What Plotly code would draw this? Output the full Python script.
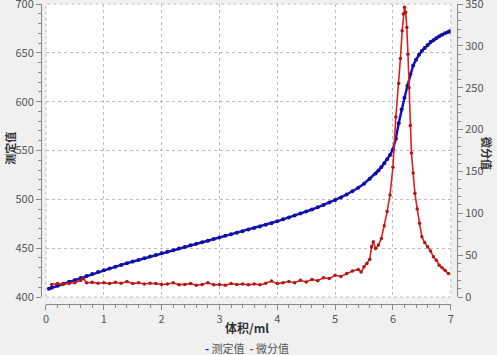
import plotly.graph_objects as go

# Measured value (left axis)
vol_measured = [0.05, 0.1, 0.2, 0.3, 0.4, 0.5, 0.6, 0.7, 0.8, 0.9,
                1.0, 1.1, 1.2, 1.3, 1.4, 1.5, 1.6, 1.7, 1.8, 1.9,
                2.0, 2.1, 2.2, 2.3, 2.4, 2.5, 2.6, 2.7, 2.8, 2.9,
                3.0, 3.1, 3.2, 3.3, 3.4, 3.5, 3.6, 3.7, 3.8, 3.9,
                4.0, 4.1, 4.2, 4.3, 4.4, 4.5, 4.6, 4.7, 4.8, 4.9,
                5.0, 5.1, 5.2, 5.3, 5.4, 5.5, 5.6, 5.7, 5.75, 5.8,
                5.85, 5.9, 5.95, 6.0, 6.05, 6.1, 6.15, 6.2, 6.25, 6.3,
                6.35, 6.4, 6.45, 6.5, 6.55, 6.6, 6.65, 6.7, 6.75, 6.8,
                6.85, 6.9, 6.95, 6.98]
measured = [408.5, 409.5, 411.5, 413.5, 415.5, 417.5, 419.5, 421.5, 423.5, 425.5,
            427.5, 429.3, 431.1, 432.9, 434.6, 436.3, 438.0, 439.7, 441.4, 443.1,
            444.8, 446.4, 448.0, 449.7, 451.3, 452.9, 454.5, 456.1, 457.7, 459.3,
            461.0, 462.6, 464.2, 465.8, 467.4, 469.0, 470.6, 472.2, 473.9, 475.5,
            477.5, 479.5, 481.4, 483.4, 485.4, 487.5, 489.6, 491.8, 494.2, 496.7,
            499.3, 502.0, 505.0, 508.2, 511.8, 516.0, 521.0, 526.5, 529.5, 533.0,
            537.0, 541.0, 545.5, 551.0, 562.0, 578.0, 592.0, 604.0, 616.0, 628.0,
            637.0, 643.0, 648.0, 652.0, 655.0, 658.0, 661.0, 663.0, 665.0, 667.0,
            668.5, 670.0, 671.0, 672.0]

# Derivative value (right axis)
vol_deriv = [0.1, 0.2, 0.3, 0.4, 0.5, 0.6, 0.65, 0.7, 0.8, 0.9,
             1.0, 1.1, 1.2, 1.3, 1.4, 1.5, 1.6, 1.7, 1.8, 1.9,
             2.0, 2.1, 2.2, 2.3, 2.4, 2.5, 2.6, 2.7, 2.8, 2.9,
             3.0, 3.1, 3.2, 3.3, 3.4, 3.5, 3.6, 3.7, 3.8, 3.9,
             4.0, 4.1, 4.2, 4.3, 4.4, 4.5, 4.6, 4.7, 4.8, 4.9,
             5.0, 5.1, 5.2, 5.3, 5.4, 5.45, 5.5, 5.55, 5.6, 5.63,
             5.66, 5.7, 5.75, 5.8, 5.85, 5.9, 5.95, 6.0, 6.05, 6.1,
             6.13, 6.16, 6.18, 6.2, 6.22, 6.24, 6.26, 6.28, 6.3, 6.32,
             6.35, 6.38, 6.42, 6.46, 6.5, 6.55, 6.6, 6.65, 6.7, 6.75,
             6.8, 6.85, 6.9, 6.96]
deriv = [15, 16, 15.5, 16, 17, 20, 22, 17, 17.5, 16.5,
         17, 16, 17.5, 16.5, 18.5, 16, 17, 15.5, 16.5, 16,
         15, 15.5, 17, 14.5, 15, 16, 14, 15, 17, 14.5,
         15, 14, 16, 15, 15.5, 14.5, 15.5, 14.5, 16.5, 19,
         16, 17, 18.5, 17, 20, 18, 21, 19.5, 23, 22,
         26, 24.5, 28, 31, 33, 30, 36, 40, 45, 60,
         66, 58, 62, 70, 85, 102, 122, 155, 215, 255,
         285, 318, 338, 346, 340, 322, 290, 250, 205, 172,
         148, 124, 105, 88, 72, 65, 60, 55, 48, 44,
         38, 35, 32, 28]

x_ticks = [0, 1, 2, 3, 4, 5, 6, 7]
left_ticks = [400, 450, 500, 550, 600, 650, 700]
right_ticks = [0, 50, 100, 150, 200, 250, 300, 350]

BLUE = "#1414c8"
RED = "#dc2020"
FONT = "Noto Sans CJK SC"
TICKFONT = dict(family=FONT, size=11, color="#555555")

fig = go.Figure()
fig.add_trace(go.Scatter(
    x=vol_measured, y=measured, name="测定值", mode="lines+markers",
    line=dict(color=BLUE, width=2.5),
    marker=dict(color="#10109a", size=4), yaxis="y", showlegend=False))
fig.add_trace(go.Scatter(
    x=vol_deriv, y=deriv, name="微分值", mode="lines+markers",
    line=dict(color=RED, width=1.6),
    marker=dict(color="#b01818", size=3.5), yaxis="y2", showlegend=False))

fig.update_layout(
    width=497, height=355,
    margin=dict(l=41, r=40, t=4, b=51, autoexpand=False),
    paper_bgcolor="#f0f0f0", plot_bgcolor="#ffffff",
    font=dict(family=FONT, size=11, color="#555555"),
    xaxis=dict(domain=[0.012, 0.985], range=[0, 7], anchor="free", position=0,
               tickvals=x_ticks, ticks="outside", ticklen=5, tickcolor="#888888",
               showline=True, linecolor="#888888", linewidth=1,
               showgrid=True, gridcolor="#bdbdbd", griddash="dot", gridwidth=1,
               zeroline=False, tickfont=TICKFONT, automargin=False,
               minor=dict(ticks="outside", ticklen=3, dtick=0.2, tickcolor="#888888", showgrid=False)),
    yaxis=dict(domain=[0.0233, 1], range=[400, 700], anchor="free", position=0,
               tickvals=left_ticks, ticks="outside", ticklen=5, tickcolor="#888888",
               showline=True, linecolor="#888888", linewidth=1,
               showgrid=True, gridcolor="#bdbdbd", griddash="dot", gridwidth=1,
               zeroline=False, tickfont=TICKFONT, automargin=False, ticklabeloverflow="allow",
               minor=dict(ticks="outside", ticklen=3, dtick=10, tickcolor="#888888", showgrid=False)),
    yaxis2=dict(range=[0, 350], overlaying="y", side="right", anchor="free", position=1,
                tickvals=right_ticks, ticks="outside", ticklen=5, tickcolor="#888888",
                showline=True, linecolor="#888888", linewidth=1,
                showgrid=False, zeroline=False, tickfont=TICKFONT, automargin=False,
                ticklabeloverflow="allow",
                minor=dict(ticks="outside", ticklen=3, dtick=10, tickcolor="#888888", showgrid=False)),
    showlegend=False,
)

# dotted frame around plotting area
fig.add_shape(type="rect", xref="x domain", yref="y domain", x0=0, x1=1, y0=0, y1=1,
              line=dict(color="#bdbdbd", width=1, dash="dot"), layer="below")

fig.add_annotation(text="<b>体积/ml</b>", xref="paper", yref="paper", x=0.495, y=-0.077,
                   showarrow=False, font=dict(family=FONT, size=12, color="#333333"),
                   xanchor="center", yanchor="middle")
fig.add_annotation(text="<b>测定值</b>", xref="paper", yref="paper", x=-0.075, y=0.52,
                   showarrow=False, textangle=-90, font=dict(family=FONT, size=11, color="#333333"),
                   xanchor="center", yanchor="middle")
fig.add_annotation(text="<b>微分值</b>", xref="paper", yref="paper", x=1.072, y=0.5,
                   showarrow=False, textangle=90, font=dict(family=FONT, size=11, color="#333333"),
                   xanchor="center", yanchor="middle")
fig.add_annotation(
    text=f"<span style='color:{BLUE}'><b>-</b></span> 测定值  <span style='color:{RED}'><b>-</b></span> 微分值",
    xref="paper", yref="paper", x=0.495, y=-0.145, showarrow=False,
    font=dict(family=FONT, size=11, color="#555555"), xanchor="center", yanchor="middle")

fig.write_html("out.html", config={"displayModeBar": False},
               post_script="document.body.style.margin='0';document.body.style.background='#f0f0f0';")
